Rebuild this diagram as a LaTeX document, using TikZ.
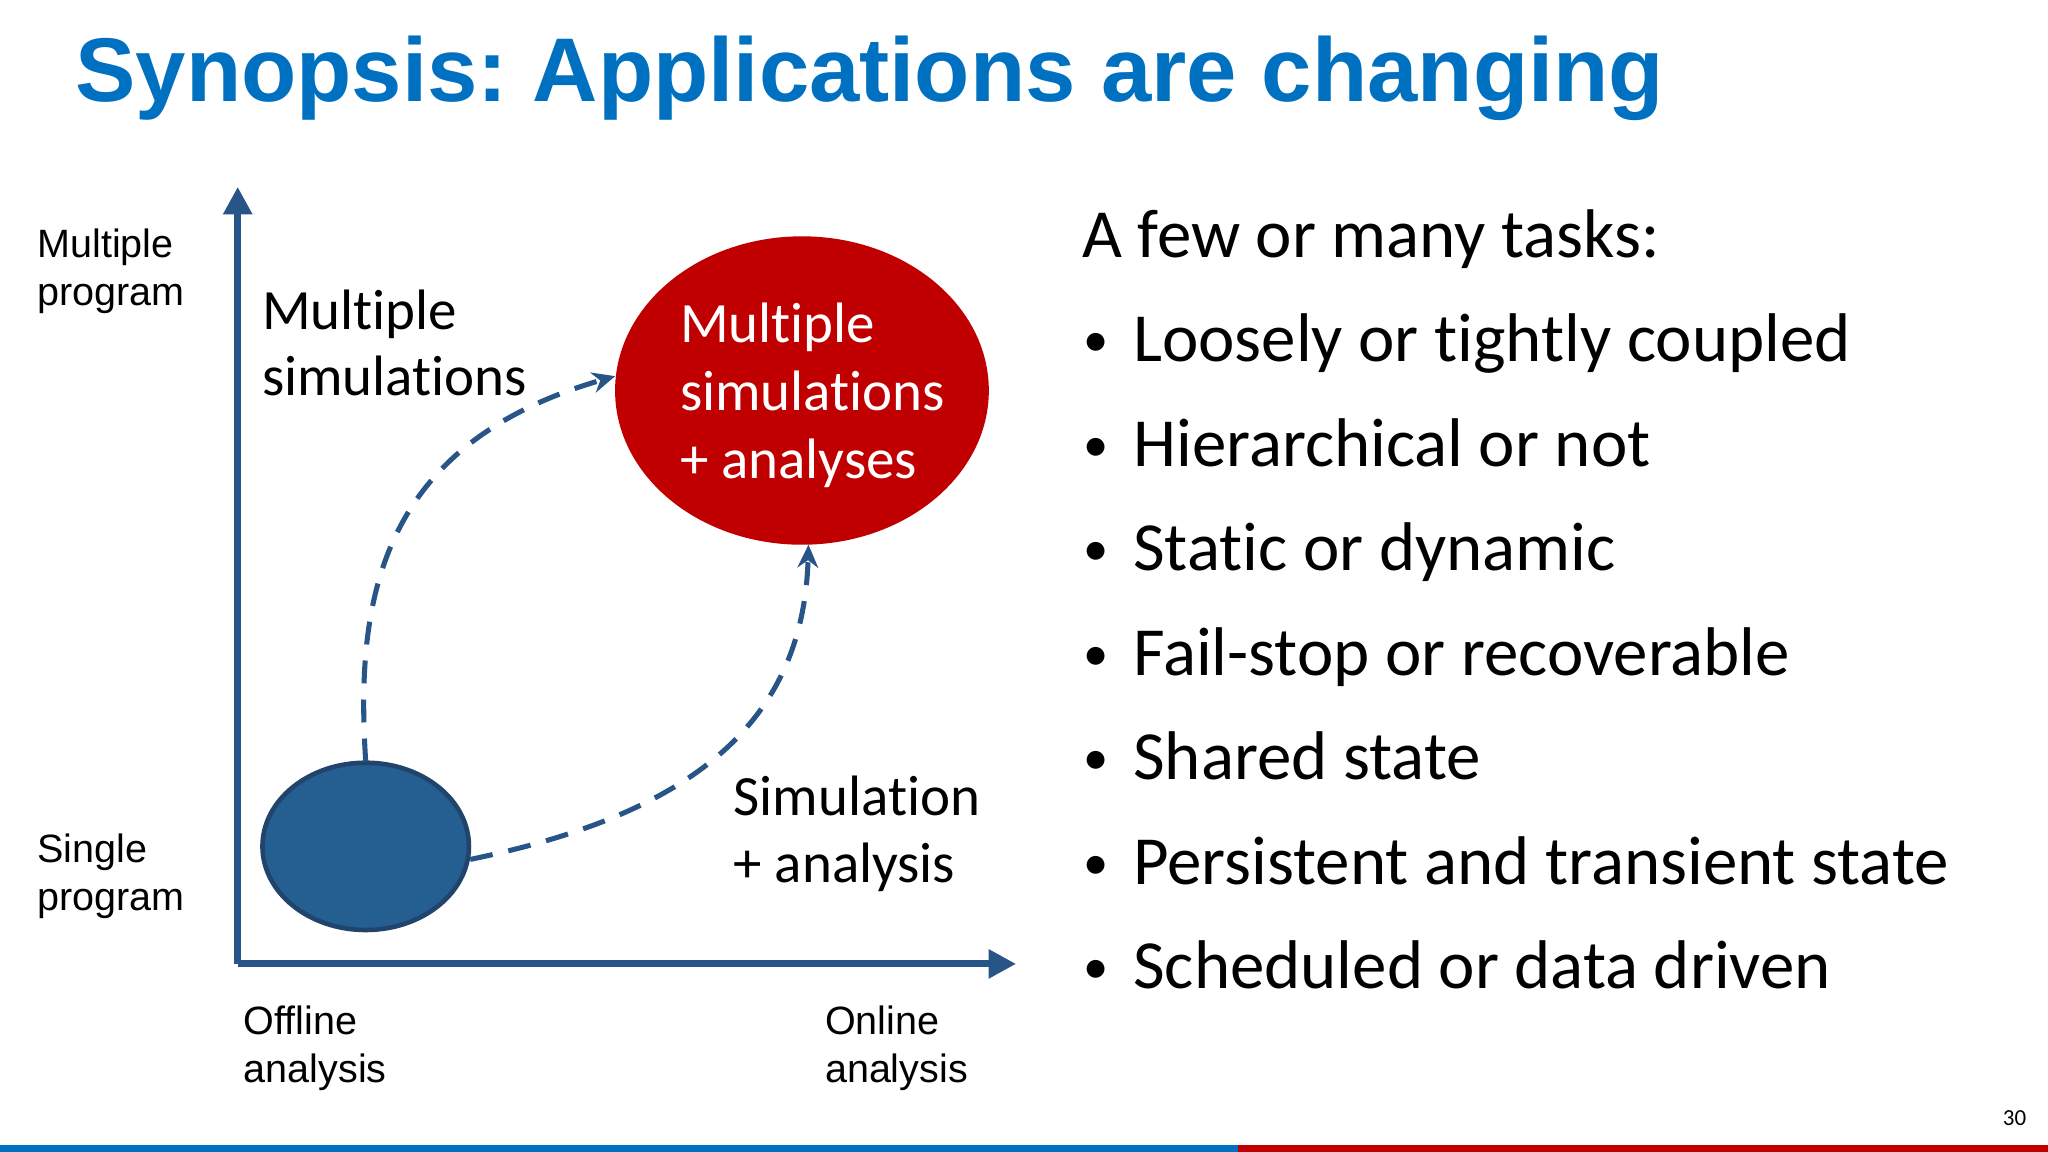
\documentclass[tikz,border=0pt]{standalone}
\usepackage{fontspec}
\setmainfont{Carlito}[Ligatures=NoCommon]
\newfontfamily\arialf{Liberation Sans}
\frenchspacing
\usetikzlibrary{arrows.meta,shapes.geometric}
\definecolor{ttlblue}{RGB}{0,112,192}
\definecolor{axblue}{RGB}{40,85,135}
\definecolor{ellblue}{RGB}{37,94,145}
\definecolor{ellred}{RGB}{192,0,0}
\begin{document}
\begin{tikzpicture}[x=0.01cm,y=-0.01cm,
  lbl/.style={anchor=base west,inner sep=0pt,font=\fontsize{12.4}{15}\selectfont},
  axl/.style={anchor=base west,inner sep=0pt,font=\arialf\fontsize{8.6}{10}\selectfont,align=left},
  bul/.style={anchor=base west,inner sep=0pt,font=\fontsize{15}{18}\selectfont},
  dsh/.style={axblue,line width=1.1pt,dash pattern=on 5pt off 3.5pt,-{Stealth[length=5pt,width=4.5pt]}}]
\fill[white] (0,0) rectangle (1568,882);
\useasboundingbox (0,0) rectangle (1568,882);
\node[anchor=base west,inner sep=0pt,text=ttlblue,font=\arialf\bfseries\fontsize{19.7}{24}\selectfont] (title) at (57,78) {Synopsis: Applications are changing};
% axes
\coordinate (o) at (182,738);
\coordinate (ytop) at (182,143);
\coordinate (xend) at (778,738);
\draw[axblue,line width=1.5pt,-{Triangle[length=6pt,width=6pt]}] (o) -- (ytop);
\draw[axblue,line width=1.5pt,-{Triangle[length=6pt,width=6pt]}] (o) -- (xend);
% ellipses
\node[ellipse,draw=axblue!80!black,line width=1pt,fill=ellblue,minimum width=1.58cm,minimum height=1.28cm,inner sep=0pt] (single) at (280,648) {};
\node[ellipse,fill=ellred,minimum width=2.86cm,minimum height=2.36cm,inner sep=0pt] (multi) at (614,299) {};
\node[lbl,text=white] (m1) at (520,262) {Multiple};
\node[lbl,text=white] (m2) at (520,314) {simulations};
\node[lbl,text=white] (m3) at (520,366) {+ analyses};
% arrows
\coordinate (a1s) at (280,583);
\coordinate (a1e) at (471,288);
\draw[dsh] (a1s) .. controls (272,460) and (290,340) .. (a1e);
\coordinate (a2s) at (360,658);
\coordinate (a2e) at (619,417);
\draw[dsh] (a2s) .. controls (520,625) and (615,560) .. (a2e);
% labels
\node[lbl] (ms1) at (200,252) {Multiple};
\node[lbl] (ms2) at (200,303) {simulations};
\node[lbl] (sa1) at (561,624) {Simulation};
\node[lbl] (sa2) at (561,676) {+ analysis};
\node[axl] (mp1) at (28,197) {Multiple};
\node[axl] (mp2) at (28,234) {program};
\node[axl] (sp1) at (28,660) {Single};
\node[axl] (sp2) at (28,697) {program};
\node[axl] (of1) at (186,792) {Offline};
\node[axl] (of2) at (186,829) {analysis};
\node[axl] (on1) at (631,792) {Online};
\node[axl] (on2) at (631,829) {analysis};
% right list
\node[bul] (hd) at (828,197) {A few or many tasks:};
\foreach \t [count=\i] in {Loosely or tightly coupled,Hierarchical or not,Static or dynamic,Fail-stop or recoverable,Shared state,Persistent and transient state,Scheduled or data driven}{
  \node[bul,font=\fontsize{11}{12}\selectfont] (b\i) at (829,193+80*\i) {\textbullet};
  \node[bul] (t\i) at (867,197+80*\i) {\t};
}
\node[anchor=base east,inner sep=0pt,font=\fontsize{5}{6}\selectfont] (pg) at (1552,862) {30};
\fill[ttlblue] (0,877) rectangle (948,882);
\fill[ellred] (948,877) rectangle (1568,882);
\end{tikzpicture}
\end{document}
